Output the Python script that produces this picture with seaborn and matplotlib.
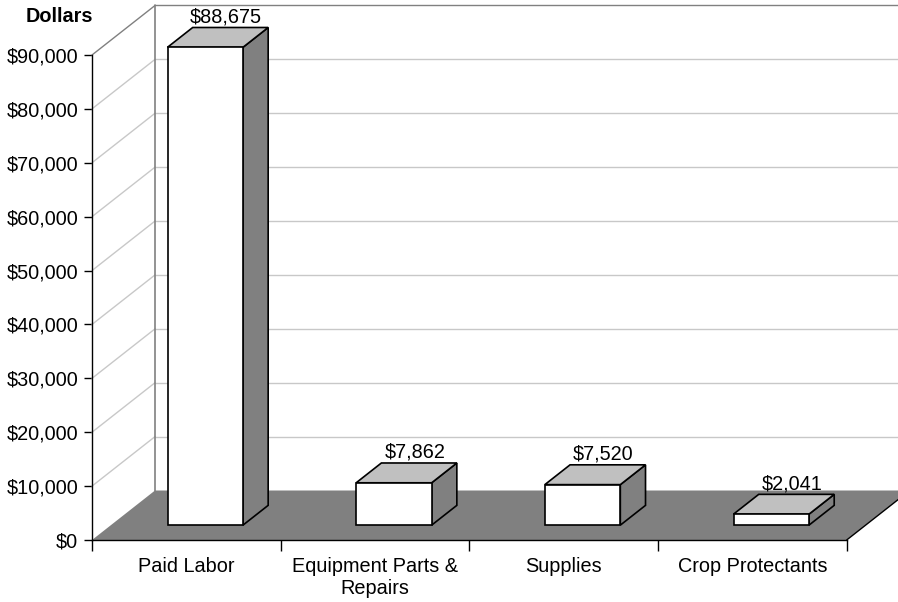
import numpy as np
import pandas as pd
import matplotlib
matplotlib.use("Agg")
import matplotlib.pyplot as plt
import seaborn as sns
from matplotlib.patches import Polygon

# ---------------- data ----------------
categories = ["Paid Labor", "Equipment Parts & Repairs", "Supplies", "Crop Protectants"]
tick_labels = ["Paid Labor", "Equipment Parts &\nRepairs", "Supplies", "Crop Protectants"]
values = [88675, 7862, 7520, 2041]
value_labels = ["$88,675", "$7,862", "$7,520", "$2,041"]
y_ticks = list(range(0, 90001, 10000))
y_tick_labels = [f"${v:,}" for v in y_ticks]
y_axis_title = "Dollars"

# ---------------- style ----------------
sns.set_theme(style="white")
plt.rcParams["font.family"] = ["Liberation Sans", "DejaVu Sans"]
FS = 14.3

W, H = 898, 602
fig = plt.figure(figsize=(W / 100, H / 100), dpi=100)
left_px, right_px, bottom_px, top_px = 92, 846.7, 540, 55
ax = fig.add_axes([left_px / W, 1 - bottom_px / H,
                   (right_px - left_px) / W, (bottom_px - top_px) / H])
ax.set_facecolor("none")

n = len(categories)
xmin, xmax = -0.5, n - 0.5
ymax = 90000
px_x = (xmax - xmin) / (right_px - left_px)
px_y = ymax / (bottom_px - top_px)
DX = 63 * px_x
DY = 49.5 * px_y


def P(x, y, d):
    return (x + d * DX, y + d * DY)


df = pd.DataFrame({"category": categories, "value": values})
sns.barplot(data=df, x="category", y="value", ax=ax, color="white",
            saturation=1, edgecolor="black", linewidth=1.2, width=0.4,
            errorbar=None)
ax.set_xlim(xmin, xmax)
ax.set_ylim(0, ymax)
ax.set_xlabel("")
ax.set_ylabel("")

GRID = "#C8C8C8"
WALL = "#808080"

# back wall
back_right = P(xmax, 0, 1)[0] + 0.2
ax.add_patch(Polygon([P(xmin, 0, 1), (back_right, DY), (back_right, ymax + DY), P(xmin, ymax, 1)],
                     closed=True, fc="white", ec="none", zorder=0.5, clip_on=False))
for t in y_ticks[1:]:
    col = WALL if t == ymax else GRID
    bx0, by0 = P(xmin, t, 1)
    ax.plot([bx0, back_right], [by0, by0], color=col, lw=1, zorder=1, clip_on=False)
    fx, fy = P(xmin, t, 0)
    ax.plot([fx, bx0], [fy, by0], color=col, lw=1, zorder=1, clip_on=False)
bx0, by0 = P(xmin, 0, 1)
bx1, by1 = P(xmin, ymax, 1)
ax.plot([bx0, bx1], [by0, by1], color=WALL, lw=1.2, zorder=1.2, clip_on=False)

# floor
ax.add_patch(Polygon([P(xmin, 0, 0), P(xmax, 0, 0), P(xmax, 0, 1), P(xmin, 0, 1)],
                     closed=True, fc="#808080", ec="none", zorder=2, clip_on=False))
fx, fy = P(xmax, 0, 0)
bx, by = P(xmax, 0, 1)
ax.plot([fx, bx], [fy, by], color="black", lw=1, zorder=2.1, clip_on=False)

# bars: front faces from seaborn, plus side and top faces
for i, (patch, v, lab) in enumerate(zip(ax.patches[:], values, value_labels)):
    x0 = patch.get_x()
    w = patch.get_width()
    fx, fy = P(x0, 0, 0.3)
    patch.set_x(fx)
    patch.set_y(fy)
    patch.set_clip_on(False)
    patch.set_zorder(6)
    side = Polygon([P(x0 + w, 0, 0.3), P(x0 + w, 0, 0.7), P(x0 + w, v, 0.7), P(x0 + w, v, 0.3)],
                   closed=True, fc="#808080", ec="black", lw=1.2, zorder=5, clip_on=False)
    top = Polygon([P(x0, v, 0.3), P(x0 + w, v, 0.3), P(x0 + w, v, 0.7), P(x0, v, 0.7)],
                  closed=True, fc="#C0C0C0", ec="black", lw=1.2, zorder=5, clip_on=False)
    ax.add_patch(side)
    ax.add_patch(top)
    cx = x0 + w / 2
    lx = cx + 0.63 * DX
    ly = v + 0.7 * DY + 5 * px_y
    ax.text(lx, ly, lab, ha="center", va="baseline", fontsize=FS, color="black",
            zorder=7, clip_on=False)

# axes / ticks
for s in ["top", "right"]:
    ax.spines[s].set_visible(False)
for s in ["left", "bottom"]:
    ax.spines[s].set_visible(True)
    ax.spines[s].set_color("black")
    ax.spines[s].set_linewidth(1)
    ax.spines[s].set_zorder(3)

ax.set_yticks(y_ticks)
ax.set_yticklabels(y_tick_labels)
ax.tick_params(axis="y", which="major", left=True, direction="out", length=6, width=1,
               color="black", labelcolor="black", labelsize=FS, pad=4)
ax.set_xticks(range(n))
ax.set_xticklabels(tick_labels)
ax.set_xticks(np.arange(xmin, xmax + 0.01, 1.0), minor=True)
ax.tick_params(axis="x", which="major", bottom=True, length=0, labelcolor="black",
               labelsize=FS, pad=12)
ax.tick_params(axis="x", which="minor", bottom=True, direction="out", length=8, width=1,
               color="black")
for t in ax.get_xticklabels():
    t.set_linespacing(1.2)

fig.text(26 / W, 1 - 17 / H, y_axis_title, ha="left", va="center",
         fontsize=FS, fontweight="bold", color="black")

fig.savefig("out.png", dpi=100)
